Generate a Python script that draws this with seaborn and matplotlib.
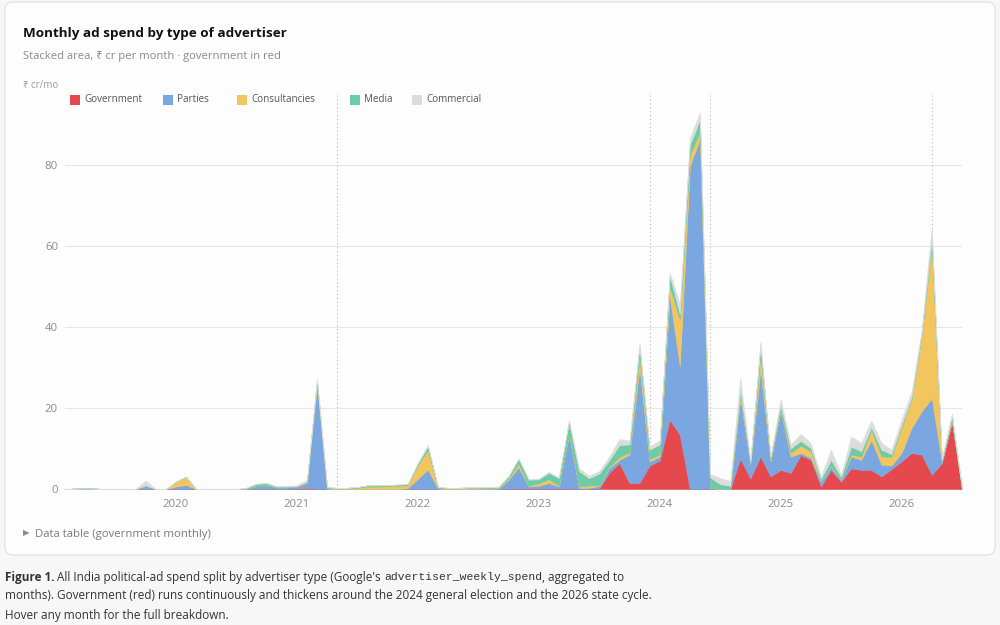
import numpy as np
import pandas as pd
import matplotlib.pyplot as plt
import seaborn as sns
from matplotlib.patches import FancyBboxPatch, Rectangle

# monthly, Feb 2019 .. Jul 2026 (90 months)
months = pd.date_range("2019-02-01", "2026-07-01", freq="MS")

# ₹ crore per month; one row per calendar year
government = [
    0, 0, 0, 0, 0, 0, 0, 0, 0, 0, 0,
    0, 0, 0, 0, 0, 0, 0, 0, 0, 0, 0, 0,
    0.1, 0.3, 0, 0, 0, 0, 0, 0, 0, 0, 0, 0,
    0, 0, 0, 0, 0, 0, 0, 0, 0, 0.05, 0.1, 0.1,
    0.1, 0.1, 0.1, 0.1, 0, 0, 0.1, 4.0, 6.4, 1.5, 1.5, 5.8,
    7.0, 17.1, 13.4, 0, 0, 0, 0, 0, 7.5, 2.6, 8.0, 3.1,
    4.7, 4.0, 8.4, 7.2, 0.6, 4.7, 1.8, 5.1, 4.7, 4.7, 3.1, 4.9,
    6.8, 8.9, 8.5, 3.5, 6.4, 16.5, 0,
]
parties = [
    0, 0.1, 0.15, 0.1, 0, 0, 0, 0, 0.8, 0, 0,
    0.6, 1.0, 0, 0, 0, 0, 0, 0.15, 0.7, 0.9, 0.4, 0.4,
    0.5, 1.2, 26.0, 0.1, 0, 0, 0, 0, 0, 0, 0, 0.2,
    2.5, 4.8, 0.1, 0, 0, 0, 0, 0.1, 0.1, 2.2, 5.3, 0.5,
    0.7, 1.4, 0.5, 13.4, 0.3, 0.3, 0.6, 1.2, 0.8, 7.0, 28.4, 1.0,
    1.0, 30.5, 16.9, 79.7, 86.5, 0.3, 0, 0, 15.0, 3.5, 21.5, 3.8,
    14.5, 4.0, 0.5, 0.5, 1.2, 0.8, 0.5, 2.9, 2.5, 7.4, 2.9, 0.9,
    2.1, 6.2, 10.7, 18.9, 0.3, 0.3, 0,
]
consultancies = [
    0, 0, 0, 0, 0, 0, 0, 0, 0, 0, 0,
    1.2, 2.0, 0, 0, 0, 0, 0, 0, 0, 0, 0, 0,
    0, 0, 0.4, 0.1, 0.1, 0.1, 0.3, 0.6, 0.6, 0.7, 0.8, 0.7,
    3.3, 4.9, 0.1, 0.1, 0.1, 0.2, 0.2, 0.2, 0.2, 0.4, 0.9, 0.2,
    0.6, 0.9, 0.2, 0.3, 0.3, 0.6, 0.2, 0.3, 0.7, 0.5, 2.9, 0.6,
    0.5, 2.4, 11.5, 2.8, 1.7, 0, 0, 0, 1.0, 0.2, 3.3, 0.3,
    0.3, 1.0, 1.8, 1.6, 0.1, 0.2, 0.1, 0.5, 0.8, 2.5, 2.1, 2.1,
    6.3, 7.0, 18.9, 37.7, 0.2, 0.3, 0,
]
media = [
    0, 0, 0, 0, 0, 0, 0, 0, 0.1, 0, 0,
    0, 0.1, 0, 0, 0, 0, 0, 0.15, 0.6, 0.5, 0.2, 0.2,
    0.1, 0.3, 0.5, 0.2, 0.2, 0.2, 0.2, 0.3, 0.3, 0.3, 0.3, 0.3,
    0.5, 0.9, 0.3, 0.2, 0.2, 0.2, 0.2, 0.2, 0.2, 0.5, 1.2, 1.5,
    1.0, 1.6, 1.9, 2.8, 3.8, 1.8, 2.9, 1.6, 3.0, 2.0, 2.4, 2.3,
    2.5, 2.7, 1.4, 2.5, 3.0, 2.6, 1.2, 0.8, 1.0, 0.4, 2.6, 0.5,
    1.3, 1.0, 1.2, 0.8, 0.6, 1.5, 0.6, 2.0, 1.3, 0.7, 1.6, 0.7,
    0.6, 0.5, 0.4, 1.8, 0.4, 1.0, 0,
]
commercial = [
    0, 0, 0, 0, 0, 0, 0, 0, 1.2, 0, 0,
    0.1, 0, 0, 0, 0, 0, 0, 0, 0, 0.1, 0.1, 0.1,
    0.2, 0.5, 0.4, 0.1, 0, 0, 0, 0, 0, 0, 0, 0,
    0.1, 0.3, 0, 0, 0, 0, 0, 0, 0, 0, 0, 0.2,
    0.2, 0.2, 0.2, 0.5, 0.7, 0.6, 0.6, 0.9, 1.4, 1.0, 1.0, 0.8,
    1.0, 0.8, 2.5, 1.7, 1.8, 0.8, 1.5, 1.2, 3.0, 0.4, 1.1, 0.4,
    1.4, 1.0, 1.7, 1.2, 0.6, 2.5, 0.5, 2.5, 2.0, 1.6, 1.7, 1.1,
    1.4, 1.4, 0.8, 3.0, 0.2, 0.6, 0,
]

series_names = ["Government", "Parties", "Consultancies", "Media", "Commercial"]
event_dates = ["2021-05-01", "2023-12-01", "2024-06-01", "2026-04-01"]
year_ticks = [2020, 2021, 2022, 2023, 2024, 2025, 2026]
y_ticks = [0, 20, 40, 60, 80]

df = pd.DataFrame({
    "month": months,
    "Government": government,
    "Parties": parties,
    "Consultancies": consultancies,
    "Media": media,
    "Commercial": commercial,
})
df["x"] = df["month"].dt.year + (df["month"].dt.month - 1) / 12

sns.set_theme(style="white")
plt.rcParams["font.family"] = ["Open Sans", "Noto Sans", "DejaVu Sans"]
palette = sns.color_palette(["#e5484d", "#7ba7e1", "#f3c55f", "#6dcca7", "#dcdcdc"])

W, H = 1000, 625
fig = plt.figure(figsize=(10, 6.25), dpi=100)
fig.patch.set_facecolor("#f7f7f7")

def fx(px):
    return px / W

def fy(py):
    return 1 - py / H

card = FancyBboxPatch((fx(5), fy(555)), fx(990), 553 / H,
                      boxstyle="round,pad=0,rounding_size=0.008",
                      mutation_aspect=1.6, transform=fig.transFigure,
                      facecolor="#fdfdfd", edgecolor="#e4e4e4", lw=1, zorder=-5)
fig.patches.append(card)

ax = fig.add_axes([fx(65), fy(489), fx(962) - fx(65), (489 - 92) / H])
ax.set_facecolor("none")
ax.set_zorder(2)

ax.stackplot(df["x"], *[df[c] for c in series_names], colors=palette,
             edgecolor="face", linewidth=0.4, zorder=2)

for d in event_dates:
    d = pd.Timestamp(d)
    ax.axvline(d.year + (d.month - 1) / 12, color="#b8b8b8", lw=0.8,
               ls=(0, (1, 2.5)), zorder=1)

ax.set_xlim(df["x"].iloc[0], df["x"].iloc[-1])
ax.set_ylim(0, 98)
ax.set_xticks(year_ticks)
ax.set_xticklabels([str(y) for y in year_ticks])
ax.set_yticks(y_ticks)
ax.yaxis.grid(True, color="#e6e6e6", lw=0.8, zorder=0)
ax.xaxis.grid(False)
ax.set_axisbelow(True)
ax.tick_params(length=0, labelsize=8.2, labelcolor="#8c8c8c")
ax.tick_params(axis="y", pad=5)
ax.tick_params(axis="x", pad=7.5)
sns.despine(ax=ax, left=True, bottom=True)

# title block
fig.text(fx(23), fy(33), "Monthly ad spend by type of advertiser",
         fontsize=9.7, fontweight="bold", color="#111111", va="center")
fig.text(fx(23), fy(57), "Stacked area, ₹ cr per month · government in red",
         fontsize=8.1, color="#8a8a8a", va="center")
fig.text(fx(23), fy(85), "₹ cr/mo", fontsize=7, color="#9a9a9a", va="center")

# legend row
legend_x = [70, 163, 237, 350, 412]
for name, col, lx in zip(series_names, palette, legend_x):
    fig.patches.append(Rectangle((fx(lx), fy(105)), fx(10), 10 / H,
                                 transform=fig.transFigure, facecolor=col,
                                 edgecolor="none", zorder=3))
    fig.text(fx(lx + 14), fy(100), name, fontsize=7.1, color="#555555",
             va="center")

fig.text(fx(23), fy(534), "▶", fontsize=6, color="#888888", va="center")
fig.text(fx(35), fy(534), "Data table (government monthly)", fontsize=8.2,
         color="#7a7a7a", va="center")

# caption with mixed runs
renderer = fig.canvas.get_renderer()
normal = dict(fontsize=8.45, color="#333333")
caption = [
    (577, [("Figure 1.", dict(normal, fontweight="bold")),
           (" All India political-ad spend split by advertiser type (Google's ", normal),
           ("advertiser_weekly_spend", dict(normal, family="Liberation Mono", fontsize=8.2)),
           (", aggregated to", normal)]),
    (596, [("months). Government (red) runs continuously and thickens around the 2024 "
            "general election and the 2026 state cycle.", normal)]),
    (615, [("Hover any month for the full breakdown.", normal)]),
]
for py, runs in caption:
    x = 5.0
    for txt, kw in runs:
        t = fig.text(fx(x), fy(py), txt, va="center", ha="left", **kw)
        x += t.get_window_extent(renderer).width

fig.savefig("out.png", dpi=100, facecolor=fig.get_facecolor())
